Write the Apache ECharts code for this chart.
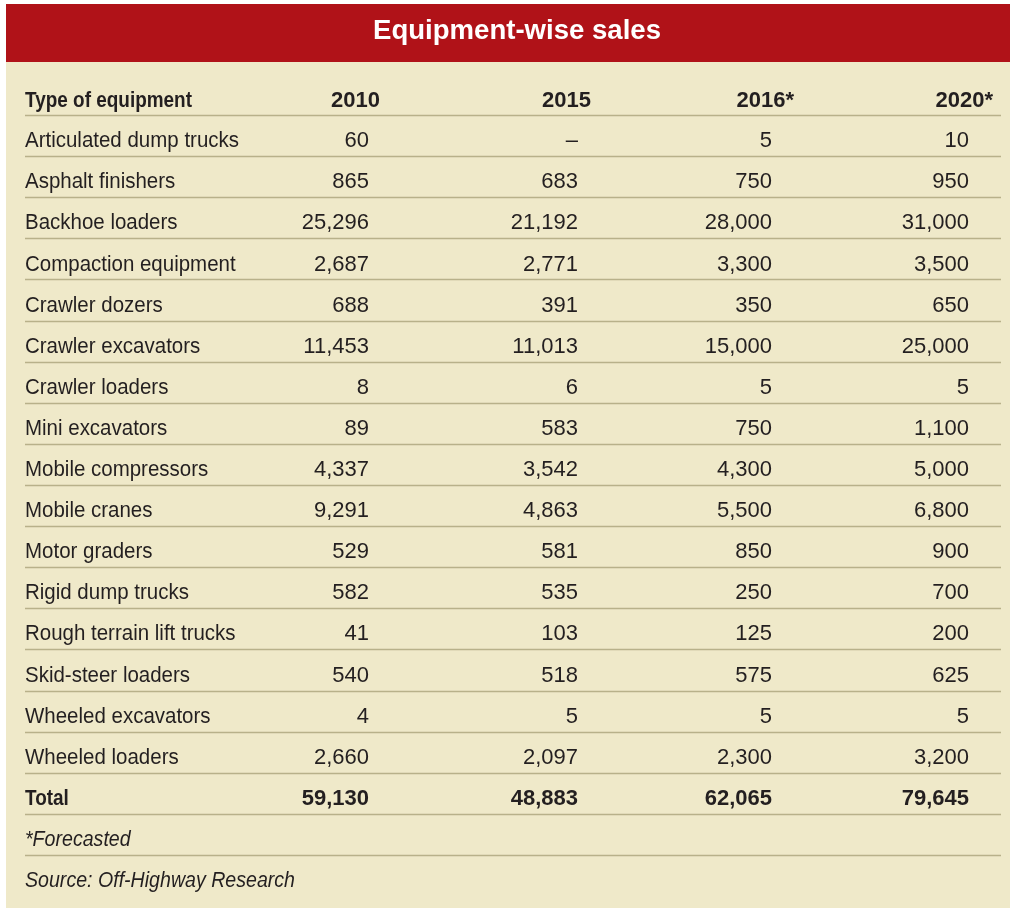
<!DOCTYPE html>
<html>
<head>
<meta charset="utf-8" />
<title>Equipment-wise sales</title>
<script src="https://cdn.jsdelivr.net/npm/echarts@6/dist/echarts.min.js"></script>
<style>
html, body { margin: 0; padding: 0; background: #fff; }
#main { width: 1024px; height: 917px; }
</style>
</head>
<body>
<div id="main"></div>
<script type="text/javascript">
// table data
var title = 'Equipment-wise sales';
var headLabel = 'Type of equipment';
var years = ['2010', '2015', '2016*', '2020*'];
var categories = ['Articulated dump trucks', 'Asphalt finishers', 'Backhoe loaders', 'Compaction equipment',
	'Crawler dozers', 'Crawler excavators', 'Crawler loaders', 'Mini excavators', 'Mobile compressors',
	'Mobile cranes', 'Motor graders', 'Rigid dump trucks', 'Rough terrain lift trucks', 'Skid-steer loaders',
	'Wheeled excavators', 'Wheeled loaders'];
var v2010 = [60, 865, 25296, 2687, 688, 11453, 8, 89, 4337, 9291, 529, 582, 41, 540, 4, 2660];
var v2015 = [null, 683, 21192, 2771, 391, 11013, 6, 583, 3542, 4863, 581, 535, 103, 518, 5, 2097];
var v2016 = [5, 750, 28000, 3300, 350, 15000, 5, 750, 4300, 5500, 850, 250, 125, 575, 5, 2300];
var v2020 = [10, 950, 31000, 3500, 650, 25000, 5, 1100, 5000, 6800, 900, 700, 200, 625, 5, 3200];
var totalLabel = 'Total';
var totals = [59130, 48883, 62065, 79645];
var notes = ['*Forecasted', 'Source: Off-Highway Research'];

// layout
var FONT = 'Liberation Sans';
var TEXT = '#231f20';
var RED = '#b01218';
var BEIGE = '#efe9c9';
var RULE = '#b8b18a';
var labelX = 25, ruleEnd = 1001;
var headRight = [380, 591, 794, 993];
var valRight = [369, 578, 772, 969];
var textDy = 5.5;

var ctx = document.createElement('canvas').getContext('2d');
function fit(text, font, target) {
	ctx.font = font;
	return target / ctx.measureText(text).width;
}
var fReg = '22px "' + FONT + '"';
var fBold = 'bold 22px "' + FONT + '"';
var fItal = 'italic 22px "' + FONT + '"';
var fTitle = 'bold 27px "' + FONT + '"';
var sReg = fit('Articulated dump trucks', fReg, 214);
var sBold = fit('Type of equipment', fBold, 167);
var sItal = fit('Source: Off-Highway Research', fItal, 270);
var sTitle = fit(title, fTitle, 288);

function fmt(v) {
	if (v == null) return '\u2013';
	return v.toLocaleString('en-US');
}

var series4 = [v2010, v2015, v2016, v2020];
var rowNames = [headLabel].concat(categories, [totalLabel], notes);
var rows = rowNames.map(function (name, i) {
	var cells = null, kind = 'body';
	if (i === 0) { kind = 'head'; cells = years; }
	else if (i <= categories.length) { cells = series4.map(function (s) { return fmt(s[i - 1]); }); }
	else if (name === totalLabel) { kind = 'total'; cells = totals.map(fmt); }
	else { kind = 'note'; }
	return { name: name, kind: kind, cells: cells };
});

function txt(x, y, text, font, align, scale) {
	return {
		type: 'text', x: x, y: y, scaleX: scale || 1,
		style: { text: text, font: font, fill: TEXT, align: align, verticalAlign: 'middle' }
	};
}

var myChart = echarts.init(document.getElementById('main'));
var option = {
	backgroundColor: '#fff',
	animation: false,
	graphic: [
		{ type: 'rect', shape: { x: 6, y: 4, width: 1004, height: 904 }, style: { fill: BEIGE }, z: -10 },
		{ type: 'rect', shape: { x: 6, y: 4, width: 1004, height: 58 }, style: { fill: RED }, z: -9 },
		{ type: 'text', x: 517, y: 32, scaleX: sTitle,
			style: { text: title, font: fTitle, fill: '#fff', align: 'center', verticalAlign: 'middle' } }
	],
	grid: { left: 0, right: 0, top: 74, height: 822 },
	xAxis: { type: 'value', min: 0, max: 1024, show: false },
	yAxis: { type: 'category', inverse: true, data: rowNames, show: false },
	series: [{
		type: 'custom',
		coordinateSystem: 'cartesian2d',
		encode: { x: 0, y: 1 },
		data: rows.map(function (r, i) { return [0, i]; }),
		renderItem: function (params, api) {
			var i = api.value(1);
			var r = rows[i];
			var yc = api.coord([0, i])[1];
			var band = api.size([0, 1])[1];
			var ty = yc + textDy + (r.kind === 'head' ? 1 : 0);
			var children = [];
			var bold = r.kind === 'head' || r.kind === 'total';
			if (r.kind === 'note') {
				children.push(txt(labelX, ty, r.name, fItal, 'left', sItal));
			} else {
				children.push(txt(labelX, ty, r.name, bold ? fBold : fReg, 'left', bold ? sBold : sReg));
				var xs = r.kind === 'head' ? headRight : valRight;
				r.cells.forEach(function (c, k) {
					children.push(txt(xs[k], ty, c, bold ? fBold : fReg, 'right', 1));
				});
			}
			if (i < rows.length - 1) {
				var yl = Math.round(yc + band / 2) + 0.5;
				children.push({
					type: 'line',
					shape: { x1: labelX, y1: yl, x2: ruleEnd, y2: yl },
					style: { stroke: RULE, lineWidth: 1.6 }
				});
			}
			return { type: 'group', children: children };
		}
	}]
};
myChart.setOption(option);
</script>
</body>
</html>
